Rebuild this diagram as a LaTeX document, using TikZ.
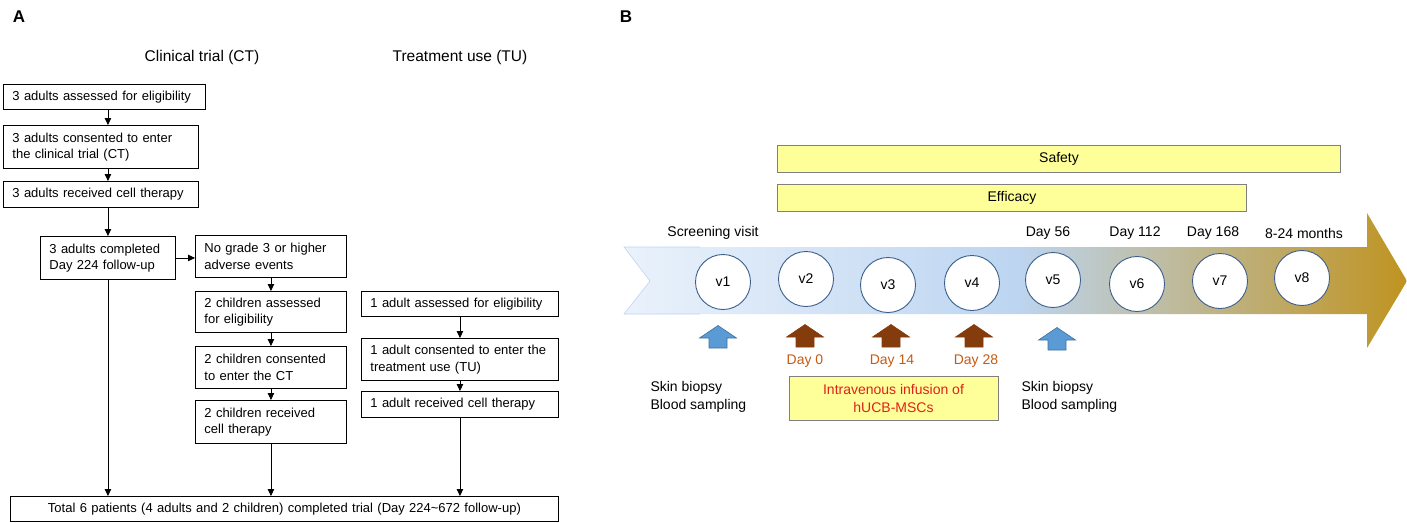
\documentclass[tikz,border=0pt]{standalone}
\usepackage{fontspec}
\setmainfont{Liberation Sans}
\usepackage{tikz}
\usetikzlibrary{arrows.meta}

\definecolor{barfill}{HTML}{FFFF99}
\definecolor{bargray}{HTML}{7F7F7F}
\definecolor{dayorange}{HTML}{C55A11}
\definecolor{infred}{HTML}{E0201B}
\definecolor{visitedge}{HTML}{3B5E8C}
\definecolor{tlblueA}{HTML}{EAF2FB}
\definecolor{tlblueB}{HTML}{BDD5F1}
\definecolor{tlgold}{HTML}{BF9320}
\definecolor{upblue}{HTML}{5B9BD5}
\definecolor{upblueedge}{HTML}{41719C}
\definecolor{upbrown}{HTML}{843C0C}

\begin{document}
\begin{tikzpicture}[x=1pt, y=-1pt,
        box/.style = {draw, line width=0.9pt, anchor=north west, align=left, inner xsep=9pt, font=\fontsize{13}{16.5}\selectfont},
        onebox/.style = {box, minimum height=25pt},
        twobox/.style = {box, minimum height=43pt},
        arr/.style = {-{Triangle[length=7pt,width=6.5pt]}, line width=0.8pt},
        head/.style = {font=\fontsize{15.5}{18}\selectfont},
        panel/.style = {font=\fontsize{17}{20}\selectfont\bfseries},
        txt/.style = {font=\fontsize{14}{18}\selectfont},
        bar/.style = {txt, draw=bargray, fill=barfill, line width=0.9pt, minimum height=27pt},
        visit/.style = {txt, draw=visitedge, fill=white, circle, line width=0.9pt, minimum size=55pt, inner sep=0pt},
        day/.style = {txt, text=dayorange},
        ]
        \useasboundingbox (0,0) rectangle (1407,522);

        % A: flow of patients
        \node[panel](pa) at (19,17) {A};
        \node[head](hct) at (202,57) {Clinical trial (CT)};
        \node[head](htu) at (460,57) {Treatment use (TU)};

        \node[onebox, text width=184pt](a1) at (3,84) {3 adults assessed for eligibility};
        \node[twobox, text width=177pt](a2) at (3,125) {3 adults consented to enter\\the clinical trial (CT)};
        \node[onebox, text width=177pt, minimum height=26pt](a3) at (3,181) {3 adults received cell therapy};
        \node[twobox, text width=117pt](a4) at (40,236) {3 adults completed\\Day 224 follow-up};

        \node[twobox, text width=133pt, minimum height=42pt](c1) at (195,235) {No grade 3 or higher\\adverse events};
        \node[twobox, text width=133pt, minimum height=41pt](c2) at (195,291) {2 children assessed\\for eligibility};
        \node[twobox, text width=133pt, minimum height=42pt](c3) at (195,346) {2 children consented\\to enter the CT};
        \node[twobox, text width=133pt](c4) at (195,400) {2 children received\\cell therapy};

        \node[onebox, text width=179pt](t1) at (361,291) {1 adult assessed for eligibility};
        \node[twobox, text width=179pt, minimum height=42pt](t2) at (361,338) {1 adult consented to enter the\\treatment use (TU)};
        \node[onebox, text width=179pt, minimum height=26pt](t3) at (361,391) {1 adult received cell therapy};

        \node[onebox, align=center, text width=530pt](tot) at (10,496) {Total 6 patients (4 adults and 2 children) completed trial (Day 224\textasciitilde 672 follow-up)};

        \draw[arr] (a1.south -| a4.north) -- (a2.north -| a4.north);
        \draw[arr] (a2.south -| a4.north) -- (a3.north -| a4.north);
        \draw[arr] (a3.south -| a4.north) -- (a4.north);
        \draw[arr] (a4.east) -- (a4.east -| c1.west);
        \draw[arr] (c1.south) -- (c2.north);
        \draw[arr] (c2.south) -- (c3.north);
        \draw[arr] (c3.south) -- (c4.north);
        \draw[arr] (t1.south) -- (t2.north);
        \draw[arr] (t2.south) -- (t3.north);
        \draw[arr] (a4.south) -- (a4.south |- tot.north);
        \draw[arr] (c4.south) -- (c4.south |- tot.north);
        \draw[arr] (t3.south) -- (t3.south |- tot.north);

        % B: visit schedule
        \node[panel](pb) at (626,17) {B};
        \node[bar, minimum width=563pt](safe) at (1059,158.5) {Safety};
        \node[bar, minimum width=469pt](eff) at (1012,197.5) {Efficacy};

        \shade[left color=tlblueA, right color=tlgold, middle color=tlblueB]
            (624,247) -- (1367,247) -- (1367,213) -- (1407,281) -- (1367,348)
            -- (1367,314) -- (624,314) -- (650,281) -- cycle;
        \draw[tlblueB, line width=0.6pt] (700,247) -- (624,247) -- (650,281) -- (624,314) -- (700,314);

        \node[txt](sv) at (713,233) {Screening visit};
        \node[txt](d56) at (1048,233) {Day 56};
        \node[txt](d112) at (1135,233) {Day 112};
        \node[txt](d168) at (1213,233) {Day 168};
        \node[txt](m824) at (1304,233) {8-24 months};

        \node[visit](v1) at (723,282) {v1};
        \node[visit](v2) at (806,279) {v2};
        \node[visit](v3) at (888,285) {v3};
        \node[visit](v4) at (972,283) {v4};
        \node[visit](v5) at (1053,280) {v5};
        \node[visit](v6) at (1137,284) {v6};
        \node[visit](v7) at (1220,281) {v7};
        \node[visit](v8) at (1302,278) {v8};

        \filldraw[fill=upblue, draw=upblueedge, line width=0.6pt] (709,348) -- ++(0,-10) -- ++(-9.5,0) -- ++(18.5,-12.5) -- ++(18.5,12.5) -- ++(-9.5,0) -- ++(0,10) -- cycle;
        \filldraw[fill=upbrown, draw=upbrown, line width=0.6pt] (796,347) -- ++(0,-10) -- ++(-9.5,0) -- ++(18.5,-12.5) -- ++(18.5,12.5) -- ++(-9.5,0) -- ++(0,10) -- cycle;
        \filldraw[fill=upbrown, draw=upbrown, line width=0.6pt] (882,347) -- ++(0,-10) -- ++(-9.5,0) -- ++(18.5,-12.5) -- ++(18.5,12.5) -- ++(-9.5,0) -- ++(0,10) -- cycle;
        \filldraw[fill=upbrown, draw=upbrown, line width=0.6pt] (965,347) -- ++(0,-10) -- ++(-9.5,0) -- ++(18.5,-12.5) -- ++(18.5,12.5) -- ++(-9.5,0) -- ++(0,10) -- cycle;
        \filldraw[fill=upblue, draw=upblueedge, line width=0.6pt] (1048,350) -- ++(0,-10) -- ++(-9.5,0) -- ++(18.5,-12.5) -- ++(18.5,12.5) -- ++(-9.5,0) -- ++(0,10) -- cycle;

        \node[day](d0) at (805,361) {Day 0};
        \node[day](d14) at (892,361) {Day 14};
        \node[day](d28) at (976,361) {Day 28};

        \node[txt, align=left, anchor=west](sk1) at (647,397) {Skin biopsy\\Blood sampling};
        \node[txt, align=left, anchor=west](sk5) at (1018,397) {Skin biopsy\\Blood sampling};

        \node[bar, text=infred, align=center, minimum width=209pt, minimum height=44pt](inf) at (893.5,398) {Intravenous infusion of\\hUCB-MSCs};
\end{tikzpicture}
\end{document}
